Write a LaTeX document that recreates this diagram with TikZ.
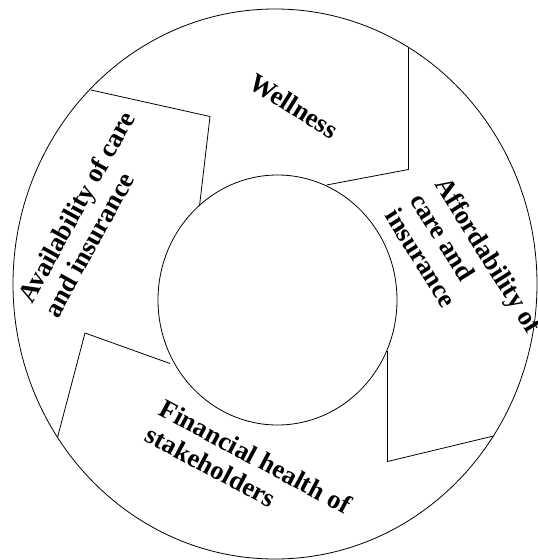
\documentclass[tikz,border=0pt]{standalone}
\usepackage{fontspec}
\setmainfont{Liberation Serif}
\usetikzlibrary{shapes.geometric}
\tikzset{
  ring/.style={draw, ellipse, inner sep=0pt, line width=0.8pt},
  edge/.style={draw, line width=0.8pt, line join=miter},
  lbl/.style={inner sep=0pt, align=left,
    font=\fontsize{26.5}{29.5}\selectfont\bfseries}
}
\begin{document}
\begin{tikzpicture}[x=1pt,y=-1pt]
\useasboundingbox (0,0) rectangle (538,560);
\fill[white] (0,0) rectangle (538,560);
\node[ring, minimum width=524pt, minimum height=550pt] (outer) at (275,284) {};
\node[ring, minimum width=239pt, minimum height=250pt] (inner) at (277.5,300) {};
% boundaries
\coordinate (a1) at (91,90);
\coordinate (a2) at (210,116.5);
\coordinate (a3) at (199.5,206);
\coordinate (b1) at (408.5,48);
\coordinate (b2) at (408.5,169.5);
\coordinate (b3) at (326.5,185);
\coordinate (c1) at (57.5,437.5);
\coordinate (c2) at (85,333);
\coordinate (c3) at (170,363.5);
\coordinate (d1) at (387.5,351);
\coordinate (d2) at (387.5,461.5);
\coordinate (d3) at (493.5,436);
\draw[edge] (a1) -- (a2) -- (a3);
\draw[edge] (b1) -- (b2) -- (b3);
\draw[edge] (c1) -- (c2) -- (c3);
\draw[edge] (d1) -- (d2) -- (d3);
% labels
\node[lbl, rotate=-32] (well) at (294,106) {Wellness};
\node[lbl, rotate=-58] (afford) at (464,270.5) {Affordability of\\care and\\insurance};
\node[lbl, rotate=-28] (fin) at (248.7,469.6) {Financial health of\\stakeholders};
\node[lbl, rotate=61] (avail) at (89,214) {Availability of care\\and insurance};
\end{tikzpicture}
\end{document}
